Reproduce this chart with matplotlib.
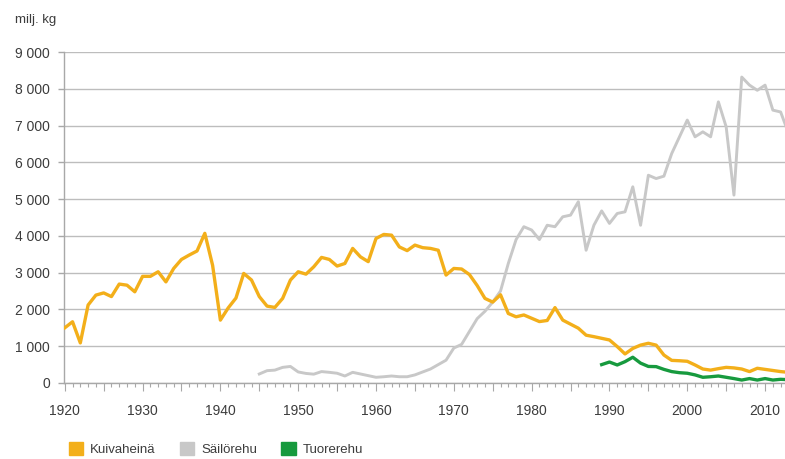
import matplotlib.pyplot as plt
import matplotlib.ticker as mtick
from matplotlib.patches import Patch

# ==========================================================
# 1. Data (milj. kg)
# ==========================================================
kuiva_years = list(range(1920, 2014))
kuiva_values = [
    1500, 1665, 1090, 2120, 2390, 2450, 2350, 2690, 2660, 2480,
    2900, 2900, 3025, 2750, 3115, 3360, 3480, 3590, 4070, 3200,
    1710, 2040, 2310, 2980, 2800, 2350, 2090, 2055, 2300, 2800,
    3025, 2960, 3160, 3415, 3360, 3180, 3250, 3660, 3430, 3300,
    3930, 4040, 4020, 3700, 3600, 3750, 3680, 3660, 3610, 2935,
    3115, 3100, 2950, 2650, 2300, 2200, 2400, 1890, 1800, 1850,
    1760, 1670, 1700, 2050, 1710, 1600, 1490, 1300, 1260, 1215,
    1170, 990, 790, 940, 1030, 1080, 1030, 760, 615, 605,
    590, 490, 380, 350, 390, 425, 410, 380, 310, 400,
    370, 340, 310, 290,
]

sailo_years = list(range(1945, 2014))
sailo_values = [
    245, 335, 350, 425, 450,
    300, 260, 240, 310, 290, 265, 190, 290, 245, 200,
    155, 170, 190, 170, 170, 220, 300, 380, 500, 620,
    950, 1050, 1400, 1750, 1950, 2200, 2500, 3250, 3900, 4250,
    4160, 3900, 4290, 4250, 4520, 4565, 4930, 3610, 4290, 4680,
    4340, 4610, 4655, 5335, 4290, 5650, 5560, 5625, 6240, 6695,
    7150, 6695, 6830, 6695, 7645, 6965, 5110, 8320, 8100, 7960,
    8100, 7420, 7370, 6800,
]

tuore_years = list(range(1989, 2014))
tuore_values = [
    500,
    570, 490, 580, 700, 540, 450, 445, 370, 310, 280,
    265, 220, 155, 170, 190, 155, 120, 80, 120, 80,
    120, 80, 100, 90,
]

series_labels = ["Kuivaheinä", "Säilörehu", "Tuorerehu"]
series_colors = ["#F3AF1A", "#C8C8C8", "#179A3E"]

y_ticks = list(range(0, 10000, 1000))

# ==========================================================
# 2. Figure
# ==========================================================
plt.rcParams["font.family"] = ["Liberation Sans", "DejaVu Sans"]
text_color = "#3C3C3C"

fig = plt.figure(figsize=(7.85, 4.59), dpi=100)
ax = fig.add_axes([0.0815, 0.1656, 0.9185, 0.721])

ax.plot(kuiva_years, kuiva_values, color=series_colors[0], linewidth=2.4,
        solid_joinstyle="round", zorder=3)
ax.plot(sailo_years, sailo_values, color=series_colors[1], linewidth=2.1,
        solid_joinstyle="round", zorder=2)
ax.plot(tuore_years, tuore_values, color=series_colors[2], linewidth=2.4,
        solid_joinstyle="round", zorder=4)

# ==========================================================
# 3. Axes styling
# ==========================================================
ax.set_xlim(1919.9, 2012.56)
ax.set_ylim(0, 9000)

ax.set_yticks(y_ticks)
ax.yaxis.set_major_formatter(
    mtick.FuncFormatter(lambda v, pos: f"{int(v):,}".replace(",", " "))
)

ax.xaxis.set_major_locator(mtick.MultipleLocator(5))
ax.xaxis.set_minor_locator(mtick.MultipleLocator(1))
ax.xaxis.set_major_formatter(
    mtick.FuncFormatter(lambda v, pos: f"{int(round(v))}" if round(v) % 10 == 0 else "")
)

ax.grid(axis="y", color="#BDBDBD", linewidth=1.0)
ax.set_axisbelow(True)

for side in ["top", "right"]:
    ax.spines[side].set_visible(False)
ax.spines["left"].set_color("#A8A8A8")
ax.spines["bottom"].set_color("#A8A8A8")
ax.spines["left"].set_linewidth(1.0)
ax.spines["bottom"].set_linewidth(1.0)

ax.tick_params(axis="y", length=4, width=1.0, color="#A8A8A8",
               labelsize=10, labelcolor=text_color, pad=6)
ax.tick_params(axis="x", which="major", length=6, width=0.8, color="#A8A8A8",
               labelsize=10, labelcolor=text_color, pad=9)
ax.tick_params(axis="x", which="minor", length=3, width=0.8, color="#A8A8A8")

fig.text(15 / 785, 1 - 20 / 459, "milj. kg", fontsize=9.5, color=text_color,
         ha="left", va="center")

# ==========================================================
# 4. Legend
# ==========================================================
handles = [Patch(facecolor=c, edgecolor=c) for c in series_colors]
fig.legend(
    handles,
    series_labels,
    loc="center left",
    bbox_to_anchor=(62 / 785, 10 / 459),
    ncol=3,
    frameon=False,
    fontsize=9.5,
    labelcolor=text_color,
    handlelength=1.1,
    handleheight=1.1,
    handletextpad=0.55,
    columnspacing=1.8,
    borderpad=0,
)

fig.savefig("out.png", dpi=100, facecolor="white")
